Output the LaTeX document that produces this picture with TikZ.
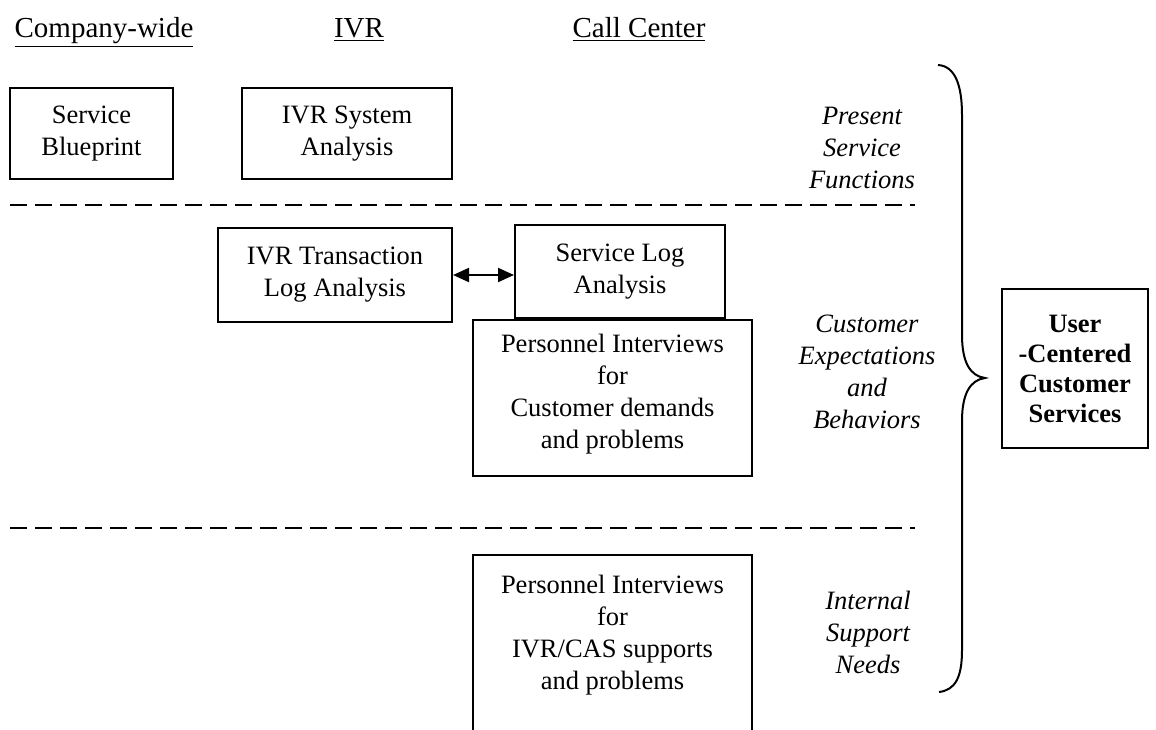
\documentclass[tikz,border=0pt]{standalone}
\usepackage{fontspec}
\setmainfont{Liberation Serif}
\usetikzlibrary{arrows.meta, positioning, calc}

\begin{document}
\begin{tikzpicture}[x=0.5pt, y=-0.5pt,
  box/.style={draw, line width=1pt, align=center, inner sep=0pt, font=\fontsize{13.25}{16}\selectfont},
  txt/.style={align=center, inner sep=0pt, font=\fontsize{13.25}{16}\selectfont},
  head/.style={anchor=base, inner sep=0pt, font=\fontsize{14.5}{17}\selectfont},
  side/.style={align=center, inner sep=0pt, font=\fontsize{13.25}{16}\selectfont\itshape},
  sepline/.style={line width=1.1pt, dash pattern=on 8.5pt off 4pt}]
\useasboundingbox (0,0) rectangle (1156,729);
% column headings
\node[head] (hcomp) at (104,37) {\underline{Company-wide}};
\node[head] (hivr) at (359,37) {\underline{IVR}};
\node[head] (hcall) at (639,37) {\underline{Call Center}};
% present service functions
\node[box, minimum width=81.5pt, minimum height=45.5pt] (blueprint) at (91.5,133.5) {Service\\Blueprint};
\node[box, minimum width=105pt, minimum height=45.5pt] (sysana) at (347,133.5) {IVR System\\Analysis};
\node[side] (psf) at (862,148) {Present\\Service\\Functions};
\draw[sepline] (10,205) -- (915,205);
% customer expectations and behaviors
\node[box, minimum width=117pt, minimum height=47pt] (translog) at (335,275) {IVR Transaction\\Log Analysis};
\node[box, minimum width=105pt, minimum height=46.5pt] (servlog) at (620,271.5) {Service Log\\Analysis};
\draw[{Triangle[length=8pt,width=7pt]}-{Triangle[length=8pt,width=7pt]}, line width=1pt] (translog.east) -- (translog.east -| servlog.west);
\node[box, minimum width=139.5pt, minimum height=78pt] (custint) at (612.5,398) {};
\node[txt, anchor=north] (custtxt) at (612.5,334) {Personnel Interviews\\for\\Customer demands\\and problems};
\node[side] (ceb) at (867,372) {Customer\\Expectations\\and\\Behaviors};
\draw[sepline] (10,528) -- (915,528);
% internal support needs
\node[box, minimum width=139.5pt, minimum height=100pt] (supint) at (612.5,655) {};
\node[txt, anchor=north] (suptxt) at (612.5,575) {Personnel Interviews\\for\\IVR/CAS supports\\and problems};
\node[side] (isn) at (868,632) {Internal\\Support\\Needs};
% brace and result
\draw[line width=1pt] (938,65) .. controls (955,66) and (962,85) .. (962,115) -- (962,335)
  .. controls (962,362) and (970,376) .. (985,378) .. controls (970,380) and (962,394) .. (962,421)
  -- (962,650) .. controls (962,678) and (955,690) .. (939,692);
\node[box, minimum width=73pt, minimum height=79.5pt, font=\fontsize{13.25}{15}\selectfont\bfseries] (ucs) at (1075,368.5) {User\\-Centered\\Customer\\Services};
\end{tikzpicture}
\end{document}
